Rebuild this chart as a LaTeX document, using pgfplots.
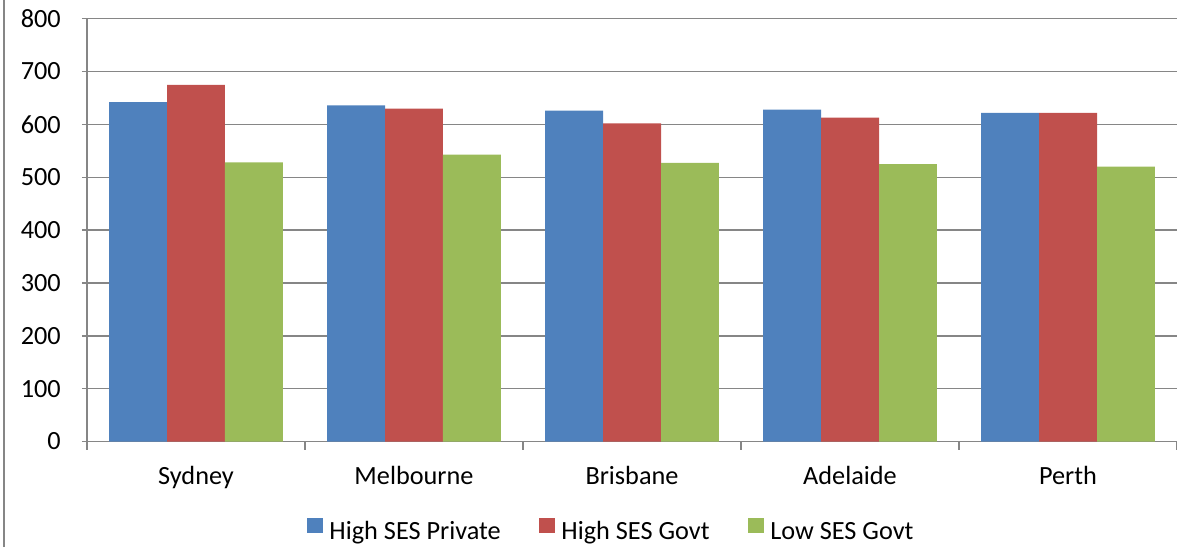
\documentclass[border=0pt]{standalone}
\usepackage{fontspec}
\setmainfont{Carlito}
\usepackage{pgfplots}
\pgfplotsset{compat=1.18}
\definecolor{privBlue}{RGB}{79,129,189}
\definecolor{govtRed}{RGB}{192,80,77}
\definecolor{lowGreen}{RGB}{155,187,89}
\definecolor{gridGray}{RGB}{134,134,134}

\begin{document}
\fontsize{19.7pt}{23.6pt}\selectfont
\begin{tikzpicture}
    % canvas: 1177 x 547 px at 0.75pt per px
    \useasboundingbox (-65.25pt,-79.125pt) rectangle (817.5pt,331.125pt);
    \draw[gridGray, line width=1.5pt] (-62.25pt,-79.125pt) -- (-62.25pt,331.125pt);

    \begin{axis}[
        scale only axis,
        width=817.5pt,
        height=317.1pt,
        xmin=-0.5, xmax=4.5,
        ymin=0, ymax=800,
        ytick={0,100,...,800},
        xtick={0,1,2,3,4},
        xticklabels={Sydney, Melbourne, Brisbane, Adelaide, Perth},
        minor xtick={-0.5,0.5,1.5,2.5,3.5,4.5},
        axis lines*=left,
        axis line style={gridGray, line width=1.1pt},
        ymajorgrids,
        major grid style={gridGray, line width=1.1pt},
        tick style={gridGray, line width=1.1pt},
        major x tick style={draw=none},
        tick align=outside,
        major tick length=3.75pt,
        minor tick length=6pt,
        /pgf/number format/assume math mode=true,
        ticklabel style={font=\fontsize{19.7pt}{23.6pt}\selectfont},
        yticklabel style={xshift=-9.2pt},
        xticklabel style={yshift=-8.1pt},
        ybar=0pt,
        bar width=0.266,
        legend columns=3,
        legend style={
            draw=none, fill=none,
            at={(0.48,-0.214)}, anchor=center,
            font=\fontsize{19.7pt}{23.6pt}\selectfont,
            nodes={inner xsep=0pt},
            /tikz/every odd column/.append style={column sep=5pt},
            /tikz/every even column/.append style={column sep=28.5pt},
        },
        legend image code/.code={%
            \fill[#1] (0pt,0pt) rectangle (12pt,11.3pt);
        },
    ]
        % High SES Private
        \addplot[fill=privBlue, draw=none] coordinates {
            (0,642) (1,636) (2,626) (3,628) (4,622)
        };
        % High SES Govt
        \addplot[fill=govtRed, draw=none] coordinates {
            (0,675) (1,630) (2,602) (3,613) (4,622)
        };
        % Low SES Govt
        \addplot[fill=lowGreen, draw=none] coordinates {
            (0,528) (1,543) (2,527) (3,525) (4,520)
        };
        \legend{High SES Private, High SES Govt, Low SES Govt}
    \end{axis}
\end{tikzpicture}
\end{document}
